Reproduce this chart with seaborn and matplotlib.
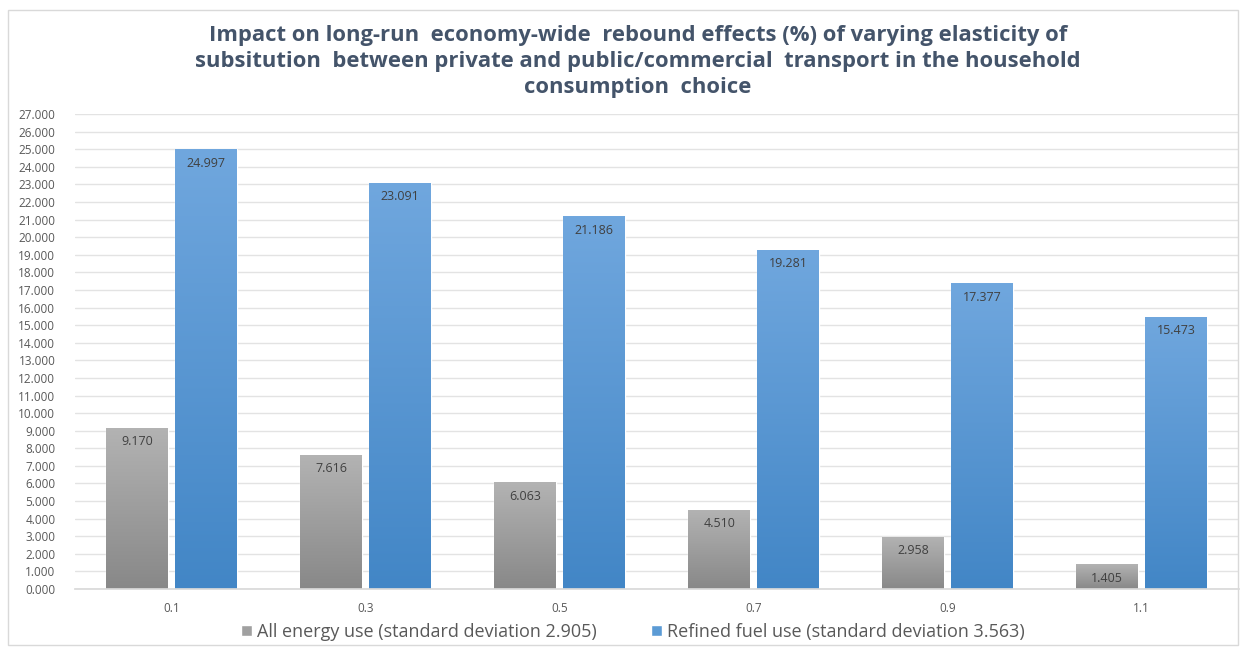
import numpy as np
import pandas as pd
import matplotlib
matplotlib.use("Agg")
import matplotlib.pyplot as plt
import seaborn as sns
from matplotlib.colors import LinearSegmentedColormap
from matplotlib.patches import Rectangle, Patch

categories = ["0.1", "0.3", "0.5", "0.7", "0.9", "1.1"]
all_energy = [9.170, 7.616, 6.063, 4.510, 2.958, 1.405]
refined_fuel = [24.997, 23.091, 21.186, 19.281, 17.377, 15.473]
series_names = ["All energy use (standard deviation 2.905)",
                "Refined fuel use (standard deviation 3.563)"]
title = ("Impact on long-run  economy-wide  rebound effects (%) of varying elasticity of\n"
         "subsitution  between private and public/commercial  transport in the household\n"
         "consumption  choice")

df = pd.DataFrame({
    "cat": categories * 2,
    "value": all_energy + refined_fuel,
    "series": [series_names[0]] * len(categories) + [series_names[1]] * len(categories),
})

sns.set_theme(style="white")
plt.rcParams["font.family"] = ["Open Sans", "DejaVu Sans"]

fig = plt.figure(figsize=(12.46, 6.48), dpi=100)
ax = fig.add_axes([0.060, 0.091, 0.934, 0.733])

colors = {series_names[0]: "#a0a0a0", series_names[1]: "#5b9bd5"}
sns.barplot(data=df, x="cat", y="value", hue="series", order=categories,
            hue_order=series_names, palette=colors, width=0.71, gap=0.1,
            ax=ax, legend=False, saturation=1)

grads = [("#b3b3b3", "#888888"), ("#70a7de", "#4286c6")]
for cont, (ctop, cbot), vals in zip(ax.containers, grads, [all_energy, refined_fuel]):
    cmap = LinearSegmentedColormap.from_list("g", [cbot, ctop])
    for bar, v in zip(cont, vals):
        x0 = bar.get_x(); w = bar.get_width(); h = bar.get_height()
        grad = np.linspace(0, 1, 256).reshape(-1, 1)
        im = ax.imshow(grad, cmap=cmap, origin="lower", aspect="auto",
                       extent=[x0, x0 + w, 0, h], zorder=bar.get_zorder() + 0.1)
        im.set_clip_path(bar)
        ax.text(x0 + w / 2, h - 0.42, f"{v:.3f}", ha="center", va="top",
                fontsize=9, color="#404040", zorder=5)

ax.set_xlim(-0.5, len(categories) - 0.5)
ax.set_ylim(0, 27)
ax.set_yticks(np.arange(0, 28, 1))
ax.yaxis.set_major_formatter(matplotlib.ticker.FuncFormatter(lambda v, p: f"{v:.3f}"))
ax.grid(axis="y", color="#e3e3e3", linewidth=1)
ax.set_axisbelow(True)
for s in ax.spines.values():
    s.set_visible(False)
ax.spines["bottom"].set_visible(True)
ax.spines["bottom"].set_color("#d9d9d9")
ax.tick_params(axis="y", labelsize=8.5, labelcolor="#595959", length=0, pad=14)
ax.tick_params(axis="x", labelsize=8.5, labelcolor="#595959", length=0, pad=9)
ax.set_xlabel("")
ax.set_ylabel("")

fig.text(0.512, 0.962, title, ha="center", va="top", fontsize=15.8, fontweight="bold",
         color="#44546a", linespacing=1.32)

handles = [Patch(facecolor="#a0a0a0"), Patch(facecolor="#5b9bd5")]
fig.legend(handles, series_names, loc="center", bbox_to_anchor=(0.508, 0.025), ncol=2,
           frameon=False, fontsize=13, labelcolor="#595959", handlelength=0.6,
           handleheight=0.6, columnspacing=3.0, handletextpad=0.3)

fig.patches.append(Rectangle((0.0065, 0.005), 0.987, 0.98, transform=fig.transFigure,
                             fill=False, edgecolor="#d9d9d9", linewidth=1))

fig.savefig("out.png", dpi=100)
